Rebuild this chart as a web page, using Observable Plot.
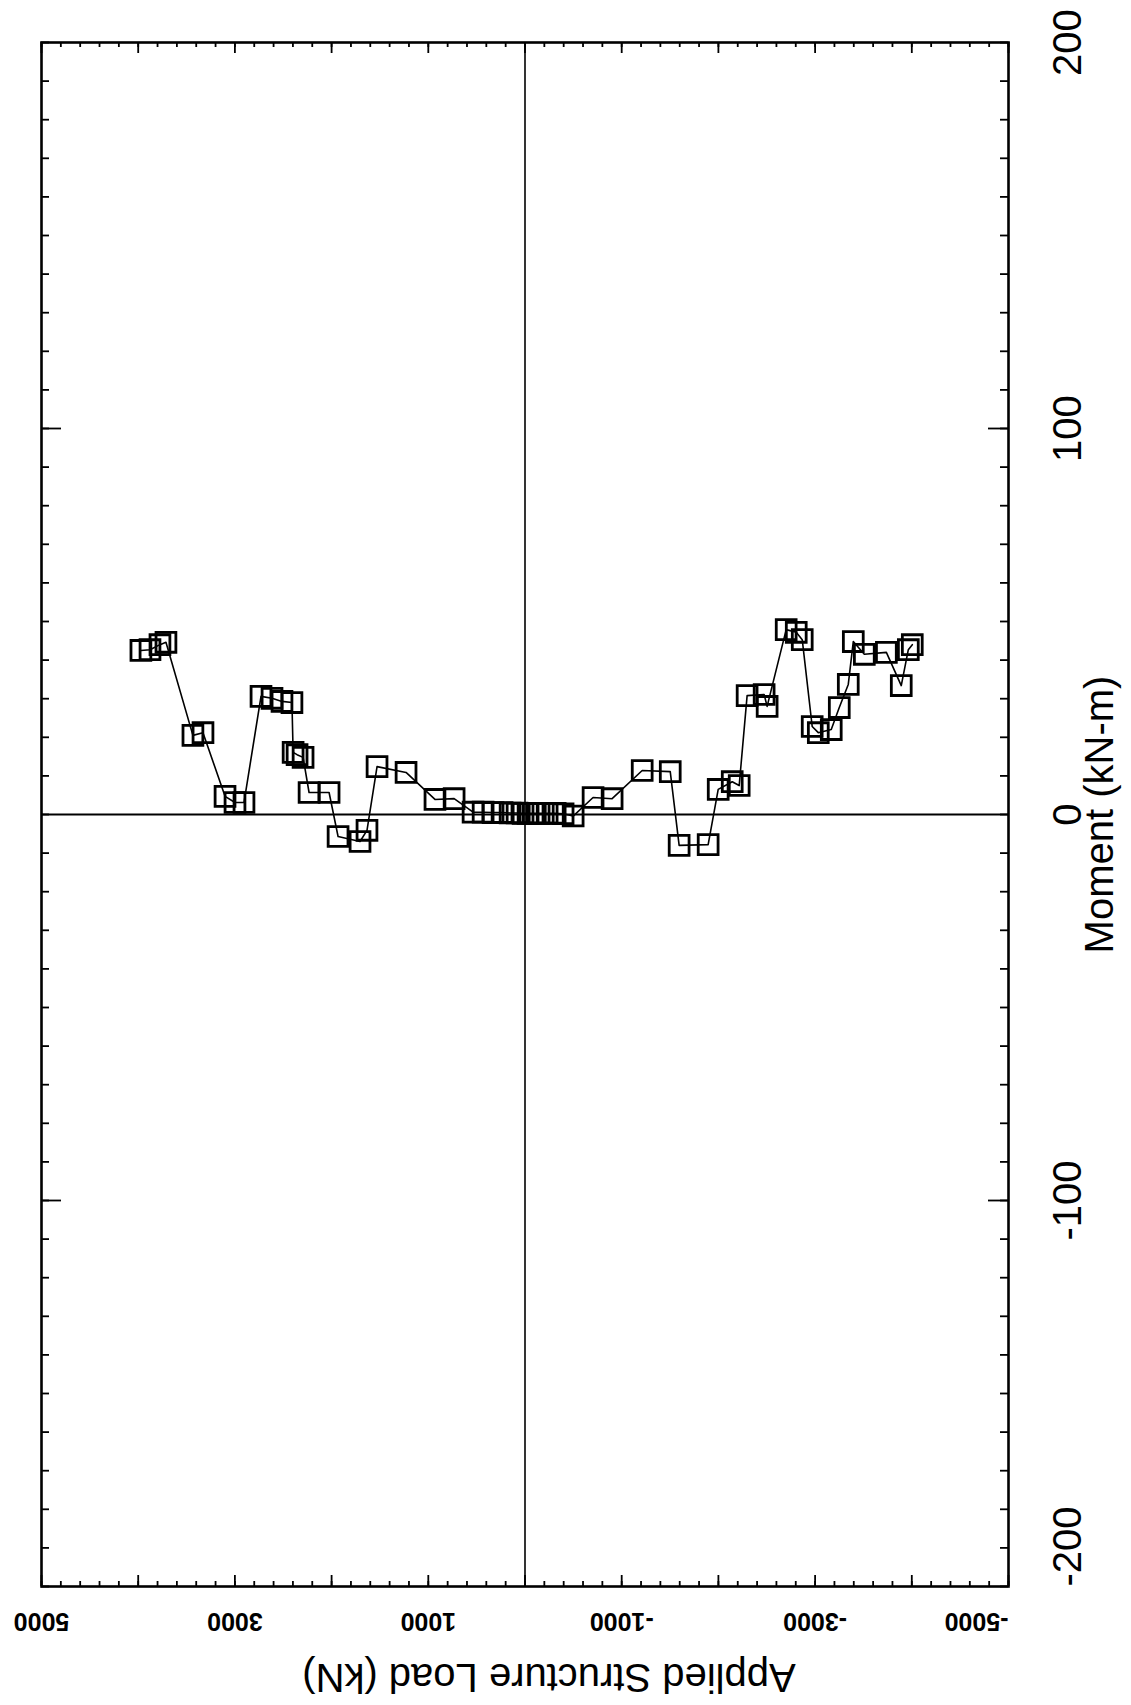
<!DOCTYPE html>
<html><head><meta charset="utf-8">
<script src="https://cdn.jsdelivr.net/npm/d3@7"></script>
<script src="https://cdn.jsdelivr.net/npm/@observablehq/plot@0.6"></script>
<style>html,body{margin:0;padding:0;background:#fff;} svg{display:block}</style>
</head><body><div id="chart"></div>
<script>
// Applied structure load (kN) and moment (kN-m), in plotting order
const load = [3972, 3878, 3775, 3713, 3434, 3330, 3102, 2999, 2906, 2730, 2616, 2513, 2410,
  2398, 2357, 2295, 2233, 2026, 1933, 1706, 1634, 1530, 1230, 931, 733,
  537, 433, 330, 237, 154, 82, 20, -32, -84, -146, -229, -312, -394, -498,
  -704, -901, -1212, -1502, -1594, -1894, -1998, -2143, -2215, -2297, -2473, -2504,
  -2701, -2805, -2867, -2970, -3033, -3167, -3250, -3343, -3395, -3509, -3737, -3891, -3964, -4005];
const moment = [42.5, 42.7, 44.0, 44.6, 20.5, 21.2, 4.7, 3.1, 3.1, 30.6, 30.1, 29.3, 29.0,
  16.1, 15.5, 14.8, 5.7, 5.7, -5.7, -7.0, -4.1, 12.4, 10.9, 3.9, 4.1,
  0.6, 0.6, 0.5, 0.5, 0.4, 0.4, 0.3, 0.3, 0.3, 0.3, 0.3, 0.3, 0.2, -0.4,
  4.4, 4.1, 11.4, 11.1, -8.0, -7.8, 6.5, 8.5, 7.5, 30.8, 31.1, 28.0,
  47.9, 47.2, 45.3, 22.8, 21.2, 22.0, 27.7, 33.7, 44.8, 41.5, 42.0, 33.4, 42.7, 44.0];

const loadLabels = [5000, 3000, 1000, -1000, -3000];
const loadLabelEnd = [-5000];
const momentLabels = [200, 100, 0, -100];
const momentLabelEnd = [-200];
const loadMinorTicks = d3.range(-5000, 5001, 200);
const loadMajorTicks = d3.range(-5000, 5001, 1000);
const momentMinorTicks = d3.range(-200, 201, 10);
const momentMajorTicks = [-100, 100];
const xTitle = "Applied Structure Load (kN)";
const yTitle = "Moment (kN-m)";

const data = load.map((L, i) => ({load: L, moment: moment[i]}));

const W = 1131, H = 1705, mL = 41, mR = 123, mT = 42, mB = 119;
const pw = W - mL - mR, ph = H - mT - mB;
const font = "'Liberation Sans', Arial, sans-serif";

const chart = Plot.plot({
  width: W, height: H,
  marginLeft: mL, marginRight: mR, marginTop: mT, marginBottom: mB,
  x: {domain: [5000, -5000], axis: null},
  y: {domain: [-200, 200], axis: null},
  style: {fontFamily: font, background: "white", color: "black"},
  marks: [
    Plot.ruleX([0], {stroke: "black", strokeWidth: 1.6}),
    Plot.ruleY([0], {stroke: "black", strokeWidth: 1.8}),
    Plot.ruleX(loadMinorTicks, {insetTop: ph - 5, stroke: "black", strokeWidth: 1.8}),
    Plot.ruleX(loadMinorTicks, {insetBottom: ph - 5, stroke: "black", strokeWidth: 1.8}),
    Plot.ruleX(loadMajorTicks, {insetTop: ph - 11, stroke: "black", strokeWidth: 1.8}),
    Plot.ruleX(loadMajorTicks, {insetBottom: ph - 11, stroke: "black", strokeWidth: 1.8}),
    Plot.ruleY(momentMinorTicks, {insetRight: pw - 8, stroke: "black", strokeWidth: 1.8}),
    Plot.ruleY(momentMinorTicks, {insetLeft: pw - 8, stroke: "black", strokeWidth: 1.8}),
    Plot.ruleY(momentMajorTicks, {insetRight: pw - 20, stroke: "black", strokeWidth: 1.8}),
    Plot.ruleY(momentMajorTicks, {insetLeft: pw - 20, stroke: "black", strokeWidth: 1.8}),
    Plot.frame({stroke: "black", strokeWidth: 2.6}),
    Plot.line(data, {x: "load", y: "moment", stroke: "black", strokeWidth: 1.6}),
    Plot.dot(data, {x: "load", y: "moment", symbol: "square", r: 11.2, stroke: "black", strokeWidth: 2.8, fill: "none"}),
    Plot.text(loadLabels, {x: d => d, text: d => String(d), frameAnchor: "bottom", dy: 34, rotate: 180,
      fontSize: 25, fontWeight: "bold", textAnchor: "middle", lineAnchor: "middle", fill: "black"}),
    Plot.text(loadLabelEnd, {x: d => d, text: d => String(d), frameAnchor: "bottom", dy: 34, rotate: 180,
      fontSize: 25, fontWeight: "bold", textAnchor: "start", lineAnchor: "middle", fill: "black"}),
    Plot.text(momentLabels, {y: d => d, text: d => String(d), frameAnchor: "right", dx: 60, rotate: -90,
      fontSize: 40, textAnchor: "middle", lineAnchor: "middle", fill: "black"}),
    Plot.text(momentLabelEnd, {y: d => d, text: d => String(d), frameAnchor: "right", dx: 60, rotate: -90,
      fontSize: 40, textAnchor: "start", lineAnchor: "middle", fill: "black"}),
    Plot.text([yTitle], {text: d => d, frameAnchor: "right", dx: 92, rotate: -90,
      fontSize: 40, textAnchor: "middle", lineAnchor: "middle", fill: "black"}),
    Plot.text([xTitle], {text: d => d, frameAnchor: "bottom", dx: 24, dy: 90, rotate: 180,
      fontSize: 40, textAnchor: "middle", lineAnchor: "middle", fill: "black"})
  ]
});
document.getElementById("chart").appendChild(chart);
</script>
</body></html>
